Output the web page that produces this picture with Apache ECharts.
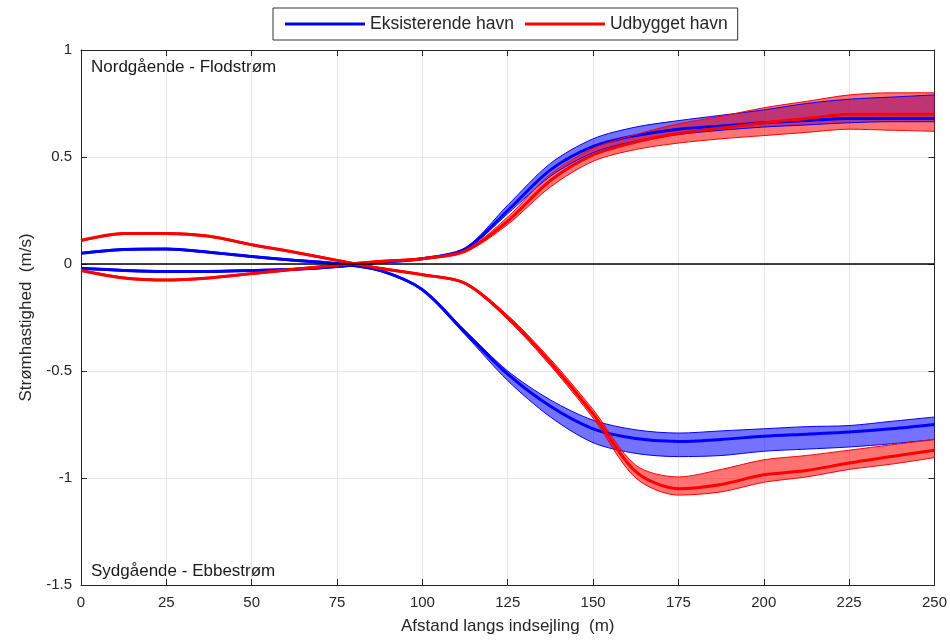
<!DOCTYPE html>
<html>
<head>
<meta charset="utf-8">
<script src="https://cdn.jsdelivr.net/npm/echarts@6/dist/echarts.min.js"></script>
<style>
  html, body { margin: 0; padding: 0; background: #fff; }
  #chart { width: 950px; height: 640px; }
</style>
</head>
<body>
<div id="chart"></div>
<script>
// afstand langs indsejling (m)
const xs = [0, 12.5, 25, 37.5, 50, 62.5, 75, 87.5, 100, 112.5, 125, 137.5, 150, 162.5, 175, 187.5, 200, 212.5, 225, 237.5, 250]

// Eksisterende havn - ebbe (ender negativ)
const blueEbbMean = [0.05, 0.068, 0.07, 0.055, 0.035, 0.017, 0.002, -0.03, -0.12, -0.32, -0.515, -0.665, -0.77, -0.815, -0.83, -0.82, -0.805, -0.795, -0.785, -0.77, -0.75]
const blueEbbLow = [0.046, 0.064, 0.066, 0.051, 0.031, 0.013, -0.002, -0.034, -0.125, -0.33, -0.545, -0.715, -0.835, -0.885, -0.9, -0.895, -0.875, -0.865, -0.855, -0.84, -0.82]
const blueEbbHigh = [0.054, 0.072, 0.074, 0.059, 0.039, 0.021, 0.006, -0.026, -0.115, -0.31, -0.5, -0.635, -0.73, -0.775, -0.79, -0.78, -0.77, -0.76, -0.755, -0.735, -0.715]

// Eksisterende havn - flod (ender positiv)
const blueFloodMean = [-0.02, -0.03, -0.035, -0.035, -0.03, -0.025, -0.012, 0.008, 0.025, 0.07, 0.25, 0.44, 0.55, 0.6, 0.63, 0.645, 0.66, 0.67, 0.68, 0.68, 0.68]
const blueFloodLow = [-0.024, -0.034, -0.039, -0.039, -0.034, -0.029, -0.016, 0.004, 0.021, 0.065, 0.235, 0.41, 0.52, 0.575, 0.605, 0.625, 0.64, 0.65, 0.66, 0.665, 0.665]
const blueFloodHigh = [-0.016, -0.026, -0.031, -0.031, -0.026, -0.021, -0.008, 0.012, 0.029, 0.075, 0.275, 0.47, 0.585, 0.64, 0.67, 0.695, 0.72, 0.75, 0.77, 0.78, 0.79]

// Udbygget havn - ebbe
const redEbbMean = [0.11, 0.142, 0.143, 0.13, 0.09, 0.055, 0.017, -0.02, -0.05, -0.09, -0.25, -0.46, -0.7, -0.97, -1.05, -1.03, -0.985, -0.965, -0.93, -0.9, -0.87]
const redEbbLow = [0.106, 0.138, 0.139, 0.126, 0.086, 0.051, 0.013, -0.024, -0.054, -0.095, -0.26, -0.475, -0.72, -1.0, -1.08, -1.065, -1.02, -0.995, -0.96, -0.935, -0.905]
const redEbbHigh = [0.114, 0.146, 0.147, 0.134, 0.094, 0.059, 0.021, -0.016, -0.046, -0.085, -0.24, -0.445, -0.68, -0.94, -0.995, -0.96, -0.915, -0.895, -0.87, -0.845, -0.82]

// Udbygget havn - flod
const redFloodMean = [-0.03, -0.065, -0.075, -0.065, -0.045, -0.025, -0.005, 0.012, 0.025, 0.06, 0.2, 0.39, 0.51, 0.57, 0.61, 0.635, 0.66, 0.68, 0.7, 0.7, 0.7]
const redFloodLow = [-0.034, -0.069, -0.079, -0.069, -0.049, -0.029, -0.009, 0.008, 0.021, 0.055, 0.185, 0.36, 0.48, 0.535, 0.565, 0.585, 0.6, 0.615, 0.63, 0.625, 0.62]
const redFloodHigh = [-0.026, -0.061, -0.071, -0.061, -0.041, -0.021, -0.001, 0.016, 0.029, 0.065, 0.22, 0.42, 0.54, 0.605, 0.655, 0.69, 0.73, 0.76, 0.79, 0.8, 0.8]

const yTicks = [-1.5, -1, -0.5, 0, 0.5, 1]

const BLUE = '#0000ff'
const RED = '#ff0000'
const FONT = 'Liberation Sans'
const TXT = '#262626'

// baand: nedre kurve + (oevre - nedre) stablet, fyldt imellem
function band(id, low, high, color, fill) {
  return [{
    name: id + ' nedre',
    type: 'line',
    stack: id,
    stackStrategy: 'all',
    data: low,
    smooth: 0.3,
    symbol: 'none',
    lineStyle: { color: color, width: 1 },
    itemStyle: { color: color }
  }, {
    name: id + ' øvre',
    type: 'line',
    stack: id,
    stackStrategy: 'all',
    data: high.map((v, i) => +(v - low[i]).toFixed(4)),
    smooth: 0.3,
    symbol: 'none',
    lineStyle: { color: color, width: 1 },
    itemStyle: { color: color },
    areaStyle: { color: fill, opacity: 1 }
  }]
}

function mean(name, data, color) {
  return {
    name: name,
    type: 'line',
    data: data,
    smooth: 0.3,
    symbol: 'none',
    lineStyle: { color: color, width: 3 },
    itemStyle: { color: color }
  }
}

const series = [].concat(
  band('Eksisterende ebbe', blueEbbLow, blueEbbHigh, BLUE, 'rgba(0,0,255,0.55)'),
  band('Eksisterende flod', blueFloodLow, blueFloodHigh, BLUE, 'rgba(0,0,255,0.55)'),
  [mean('Eksisterende havn', blueEbbMean, BLUE), mean('Eksisterende havn', blueFloodMean, BLUE)],
  band('Udbygget ebbe', redEbbLow, redEbbHigh, RED, 'rgba(255,0,0,0.55)'),
  band('Udbygget flod', redFloodLow, redFloodHigh, RED, 'rgba(255,0,0,0.55)'),
  [mean('Udbygget havn', redEbbMean, RED), mean('Udbygget havn', redFloodMean, RED)]
)

// nul-linje
series[0].markLine = {
  silent: true,
  symbol: 'none',
  label: { show: false },
  lineStyle: { color: '#000', width: 1.5, type: 'solid' },
  data: [{ yAxis: 0 }]
}

const chart = echarts.init(document.getElementById('chart'))

const option = {
  animation: false,
  textStyle: { fontFamily: FONT },
  grid: { left: 81, right: 15, top: 50, bottom: 54, containLabel: false },
  legend: {
    data: ['Eksisterende havn', 'Udbygget havn'],
    left: 273,
    top: 8,
    padding: [7, 10, 7, 12],
    itemWidth: 80,
    itemHeight: 3,
    itemGap: 11,
    icon: 'rect',
    borderColor: '#333',
    borderWidth: 1,
    backgroundColor: '#fff',
    textStyle: { fontSize: 17.5, color: TXT, fontFamily: FONT }
  },
  xAxis: [{
    type: 'category',
    data: xs,
    boundaryGap: false,
    position: 'bottom',
    name: 'Afstand langs indsejling  (m)',
    nameLocation: 'middle',
    nameGap: 33,
    nameTextStyle: { fontSize: 17, color: TXT },
    axisLine: { onZero: false, lineStyle: { color: '#262626', width: 1 } },
    axisTick: { inside: true, length: 6, interval: 1, lineStyle: { color: '#262626' } },
    axisLabel: { interval: 1, fontSize: 15, color: TXT, margin: 10 },
    splitLine: { show: true, interval: 1, lineStyle: { color: '#e6e6e6' } }
  }, {
    type: 'category',
    data: xs,
    boundaryGap: false,
    position: 'top',
    axisLine: { onZero: false, lineStyle: { color: '#262626', width: 1 } },
    axisTick: { inside: true, length: 6, interval: 1, lineStyle: { color: '#262626' } },
    axisLabel: { show: false },
    splitLine: { show: false }
  }],
  yAxis: [{
    type: 'value',
    min: yTicks[0],
    max: yTicks[yTicks.length - 1],
    interval: 0.5,
    name: 'Strømhastighed  (m/s)',
    nameLocation: 'middle',
    nameGap: 46,
    nameTextStyle: { fontSize: 17, color: TXT },
    axisLine: { show: true, onZero: false, lineStyle: { color: '#262626', width: 1 } },
    axisTick: { show: true, inside: true, length: 6, lineStyle: { color: '#262626' } },
    axisLabel: { fontSize: 15, color: TXT, margin: 9 },
    splitLine: { show: true, lineStyle: { color: '#e6e6e6' } }
  }, {
    type: 'value',
    position: 'right',
    min: yTicks[0],
    max: yTicks[yTicks.length - 1],
    interval: 0.5,
    axisLine: { show: true, onZero: false, lineStyle: { color: '#262626', width: 1 } },
    axisTick: { show: true, inside: true, length: 6, lineStyle: { color: '#262626' } },
    axisLabel: { show: false },
    splitLine: { show: false }
  }],
  graphic: [{
    type: 'text',
    left: 91,
    top: 59,
    style: { text: 'Nordgående - Flodstrøm', font: '17px "Liberation Sans"', fill: '#1a1a1a' }
  }, {
    type: 'text',
    left: 91,
    top: 563,
    style: { text: 'Sydgående - Ebbestrøm', font: '17px "Liberation Sans"', fill: '#1a1a1a' }
  }],
  series: series
}

chart.setOption(option)
</script>
</body>
</html>
